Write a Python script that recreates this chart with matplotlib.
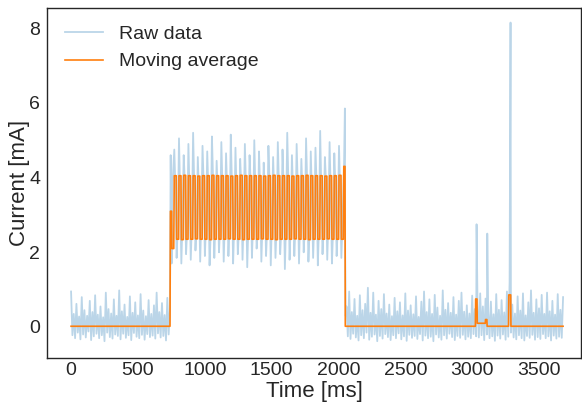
import numpy as np
from matplotlib import pyplot as plt

plt.rcParams['font.family'] = ['Liberation Sans', 'DejaVu Sans']
plt.rcParams['text.color'] = '.15'
plt.rcParams['axes.labelcolor'] = '.15'
plt.rcParams['xtick.color'] = '.15'
plt.rcParams['ytick.color'] = '.15'

# ---- raw samples, idle before the burst (10 ms sampling, starting at 0 ms)
idle1_raw = [0.95, -0.22, 0.35, -0.30, 0.62, -0.15, 0.28, -0.33, 0.80, -0.20,
             0.45, -0.28, 0.30, -0.12, 0.70, -0.35, 0.40, -0.25, 0.85, -0.18,
             0.33, -0.30, 0.55, -0.22, 0.26, -0.38, 0.92, -0.15, 0.48, -0.27,
             0.36, -0.31, 0.74, -0.20, 0.30, -0.24, 0.98, -0.33, 0.42, -0.18,
             0.60, -0.29, 0.27, -0.22, 0.82, -0.35, 0.38, -0.16, 0.66, -0.26,
             0.31, -0.30, 0.88, -0.21, 0.44, -0.34, 0.29, -0.19, 0.72, -0.27,
             0.35, -0.23, 0.58, -0.31, 0.92, -0.17, 0.40, -0.28, 0.64, -0.24,
             0.32, -0.36, 0.78, -0.20, 0.50]

# ---- burst start / end samples
lead_t = [745, 752, 760]
lead_raw = [4.60, 1.70, 3.90]
tail_t = [2042, 2048, 2050, 2054]
tail_raw = [4.40, 5.85, 2.00, 0.30]

# ---- burst cycles (one value per cycle): peak, upper mid, trough, lower mid
burst_t0 = 772          # ms, start of first cycle
burst_period = 35.2     # ms
burst_hi = [4.75, 5.05, 4.60, 4.90, 5.20, 4.55, 4.85, 4.70, 5.10, 4.45,
            4.95, 4.65, 5.15, 4.80, 4.50, 4.90, 4.60, 5.00, 4.70, 4.40,
            4.85, 4.55, 4.95, 4.75, 5.20, 4.60, 4.90, 4.50, 5.05, 4.70,
            4.80, 5.25, 4.55, 4.95, 4.65, 4.85]
burst_mid_hi = [3.70, 3.55, 3.85, 3.60, 3.75, 3.50, 3.80, 3.65, 3.90, 3.55,
                3.70, 3.60, 3.85, 3.50, 3.75, 3.65, 3.80, 3.55, 3.70, 3.60,
                3.90, 3.50, 3.75, 3.65, 3.85, 3.55, 3.70, 3.60, 3.80, 3.50,
                3.75, 3.65, 3.85, 3.55, 3.70, 3.60]
burst_lo = [1.85, 1.70, 1.95, 1.80, 2.05, 1.75, 1.90, 1.65, 1.85, 2.00,
            1.75, 1.90, 1.70, 1.95, 1.80, 1.60, 1.85, 2.10, 1.75, 1.90,
            1.65, 1.85, 1.95, 1.55, 1.80, 1.90, 1.70, 2.00, 1.75, 1.85,
            1.65, 1.95, 1.80, 1.70, 1.90, 1.85]
burst_mid_lo = [2.75, 2.90, 2.65, 2.85, 2.70, 2.95, 2.80, 2.60, 2.85, 2.75,
                2.90, 2.70, 2.80, 2.65, 2.95, 2.75, 2.85, 2.60, 2.80, 2.70,
                2.90, 2.75, 2.65, 2.85, 2.80, 2.70, 2.95, 2.75, 2.60, 2.85,
                2.70, 2.80, 2.90, 2.65, 2.75, 2.85]
ma_burst_hi = [4.05, 4.05, 4.06, 4.05, 4.05, 4.04, 4.05, 4.05, 4.06, 4.05,
               4.05, 4.05, 4.04, 4.05, 4.06, 4.05, 4.05, 4.05, 4.05, 4.04,
               4.05, 4.06, 4.05, 4.05, 4.05, 4.04, 4.05, 4.05, 4.06, 4.05,
               4.05, 4.05, 4.04, 4.05, 4.05, 4.06]
ma_burst_lo = [2.35, 2.34, 2.35, 2.35, 2.36, 2.35, 2.35, 2.34, 2.35, 2.35,
               2.35, 2.36, 2.35, 2.35, 2.34, 2.35, 2.35, 2.35, 2.36, 2.35,
               2.35, 2.34, 2.35, 2.35, 2.35, 2.36, 2.35, 2.35, 2.34, 2.35,
               2.35, 2.35, 2.36, 2.35, 2.35, 2.35]

# ---- raw samples, idle after the burst (10 ms sampling, starting at 2060 ms)
idle2_start = 2060
idle2_raw = [0.55, -0.25, 0.95, -0.32, 0.40, -0.18, 0.75, -0.28, 0.30, -0.36,
             0.85, -0.22, 0.45, -0.30, 0.62, -0.15, 1.05, -0.34, 0.38, -0.26,
             0.92, -0.20, 0.33, -0.38, 0.70, -0.24, 0.48, -0.31, 0.88, -0.19,
             0.36, -0.27, 0.60, -0.35, 0.29, -0.22, 0.78, -0.30, 0.42, -0.17,
             0.66, -0.33, 0.31, -0.25, 0.90, -0.37, 0.44, -0.21, 0.58, -0.29,
             0.34, -0.24, 0.82, -0.32, 0.27, -0.19, 0.68, -0.36, 0.95, -0.23,
             0.40, -0.30, 0.74, -0.26, 0.35, -0.38, 0.86, -0.20, 0.52, -0.28,
             0.30, -0.34, 0.98, -0.22, 0.46, -0.31, 0.64, -0.18, 0.38, -0.27,
             0.80, -0.35, 0.33, -0.24, 0.70, -0.29, 0.92, -0.21, 0.41, -0.33,
             0.58, -0.26, 0.36, -0.30, 0.84, -0.19, 0.48, -0.25, 0.62, -0.28,
             0.90, -0.22, 0.55, -0.35, 0.76, -0.20, 0.42, -0.30, 0.68, -0.25,
             0.34, -0.37, 0.88, -0.23, 0.46, -0.31, 0.72, -0.20, 0.39, -0.34,
             0.95, -0.26, 1.20, -0.15, 0.60, -0.28, 0.36, -0.33, 0.82, -0.22,
             0.44, -0.30, 0.90, -0.36, 0.31, -0.24, 0.66, -0.29, 0.98, -0.21,
             0.38, -0.34, 0.74, -0.27, 0.50, -0.32, 0.86, -0.19, 0.35, -0.30,
             0.92, -0.25, 0.42, -0.36, 0.70, -0.23, 0.33, -0.31, 0.88, -0.26,
             0.46, -0.29, 0.80]

# ---- single-sample current spikes during the idle period
spike_t = [3033, 3113, 3287]
spike_v = [2.75, 2.50, 8.15]

# ---- moving average breakpoints outside the regular cycles
ma_pre_t = [0, 740, 743, 752, 754, 768]
ma_pre_v = [0.02, 0.02, 3.10, 3.10, 2.10, 2.10]
ma_post_t = [2040, 2049, 2051, 3024, 3026, 3036, 3038, 3098, 3100, 3110, 3112,
             3272, 3274, 3288, 3290, 3680]
ma_post_v = [4.30, 4.30, 0.02, 0.02, 0.75, 0.75, 0.10, 0.10, 0.20, 0.20, 0.02,
             0.02, 0.86, 0.86, 0.02, 0.02]

# assemble raw series
n_cyc = len(burst_hi)
cyc_start = burst_t0 + burst_period * np.arange(n_cyc)
raw_cyc_t = (cyc_start[:, None] + burst_period * np.array([0, 0.25, 0.5, 0.75])).ravel()
raw_cyc_v = np.column_stack([burst_hi, burst_mid_hi, burst_lo, burst_mid_lo]).ravel()
raw_t = np.concatenate([10 * np.arange(len(idle1_raw)), lead_t, raw_cyc_t, tail_t,
                        idle2_start + 10 * np.arange(len(idle2_raw)), spike_t])
raw_v = np.concatenate([idle1_raw, lead_raw, raw_cyc_v, tail_raw, idle2_raw, spike_v])
order = np.argsort(raw_t, kind='stable')      # slot the spikes in between samples
raw_t, raw_v = raw_t[order], raw_v[order]

# assemble moving average (square wave during the burst)
ma_cyc_t = (cyc_start[:, None] + burst_period * np.array([0, 0.42, 0.5, 0.92])).ravel()
ma_cyc_v = np.column_stack([ma_burst_hi, ma_burst_hi, ma_burst_lo, ma_burst_lo]).ravel()
ma_t = np.concatenate([ma_pre_t, ma_cyc_t, ma_post_t])
ma_v = np.concatenate([ma_pre_v, ma_cyc_v, ma_post_v])

fig = plt.figure(figsize=(5.82, 4.05), dpi=100)
ax = fig.add_axes([47 / 582, 1 - 358 / 405, 534 / 582, 350 / 405])

ax.plot(raw_t, raw_v, color='#1f77b4', alpha=0.3, lw=1.3, label='Raw data')
ax.plot(ma_t, ma_v, color='#ff7f0e', lw=1.2, label='Moving average')

ax.set_xlim(-180, 3814)
ax.set_ylim(-0.83, 8.54)
ax.set_xticks([0, 500, 1000, 1500, 2000, 2500, 3000, 3500])
ax.set_yticks([0, 2, 4, 6, 8])
ax.tick_params(length=0, labelsize=14)
ax.tick_params(axis='x', pad=3)
ax.tick_params(axis='y', pad=5)
for sp in ax.spines.values():
    sp.set_color('.15')
    sp.set_linewidth(1.0)

ax.set_xlabel('Time [ms]', fontsize=16, labelpad=1)
ax.set_ylabel('Current [mA]', fontsize=16, labelpad=-1)
ax.legend(loc='upper left', frameon=False, fontsize=14)

fig.savefig('out.png', dpi=100)
